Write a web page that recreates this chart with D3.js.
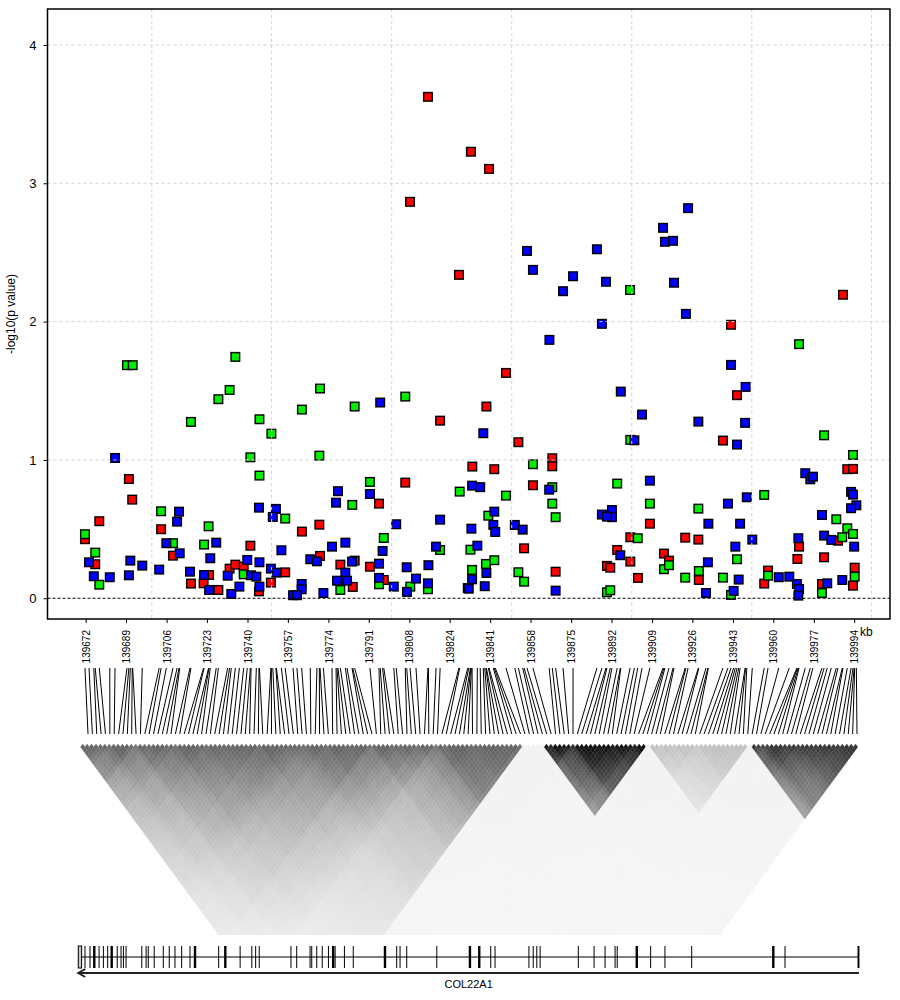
<!DOCTYPE html>
<html><head><meta charset="utf-8">
<script src="https://cdn.jsdelivr.net/npm/d3@7/dist/d3.min.js"></script>
<style>body{margin:0;background:#fff}</style>
</head><body>
<div id="chart"></div>
<script>
// ---------------- DATA ----------------
const xTickKb = [139672,139688.9,139705.9,139722.8,139739.8,139756.7,139773.7,139790.6,139807.6,139824.5,139841.5,139858.4,139875.4,139892.3,139909.3,139926.2,139943.2,139960.1,139977.1,139994];
const xTickLabels = ["139672","139689","139706","139723","139740","139757","139774","139791","139808","139824","139841","139858","139875","139892","139909","139926","139943","139960","139977","139994"];
const yTicks = [0,1,2,3,4];
const gridKb = [139699.7,139749.9,139800.2,139850.5,139900.8,139951.1,140001.3];

const redPts = [[139671.7,0.427],[139677.7,0.557],[139676.0,0.246],[139690.1,0.862],[139691.5,0.713],[139703.6,0.499],[139708.6,0.308],[139716.1,0.106],[139723.7,0.168],[139721.4,0.108],[139727.6,0.06],[139732.3,0.214],[139734.7,0.243],[139738.2,0.229],[139741.0,0.38],[139744.6,0.05],[139749.6,0.113],[139755.6,0.187],[139762.6,0.482],[139769.9,0.532],[139770.2,0.306],[139778.7,0.243],[139784.7,0.272],[139783.9,0.082],[139791.1,0.228],[139794.9,0.684],[139796.9,0.132],[139805.9,0.836],[139820.5,1.284],[139807.9,2.866],[139815.4,3.625],[139828.4,2.338],[139833.4,3.228],[139841.0,3.104],[139834.0,0.952],[139843.2,0.933],[139839.9,1.386],[139848.1,1.629],[139853.3,1.128],[139859.4,0.817],[139867.5,1.012],[139867.5,0.954],[139855.7,0.361],[139868.9,0.192],[139908.4,0.539],[139900.2,0.441],[139894.7,0.349],[139890.4,0.234],[139891.8,0.221],[139900.2,0.265],[139903.4,0.147],[139914.3,0.323],[139916.4,0.272],[139923.2,0.438],[139928.7,0.424],[139928.9,0.132],[139939.0,1.14],[139944.9,1.468],[139942.4,1.977],[139957.9,0.2],[139956.3,0.106],[139970.9,0.373],[139970.2,0.284],[139981.4,0.296],[139980.5,0.103],[139987.2,0.416],[139991.1,0.933],[139993.5,0.935],[139994.2,0.221],[139993.5,0.091],[139989.3,2.194]];

const greenPts = [[139689.3,1.685],[139691.7,1.685],[139734.7,1.745],[139732.3,1.506],[139727.6,1.439],[139716.1,1.275],[139744.8,1.294],[139741.0,1.019],[139744.8,0.887],[139703.6,0.629],[139671.7,0.463],[139723.5,0.52],[139708.6,0.398],[139721.6,0.388],[139676.0,0.33],[139677.7,0.098],[139738.2,0.173],[139749.8,1.19],[139770.2,1.516],[139762.6,1.364],[139784.7,1.386],[139805.9,1.458],[139769.9,1.031],[139791.1,0.841],[139783.7,0.675],[139828.7,0.771],[139755.6,0.576],[139796.9,0.436],[139820.5,0.349],[139833.2,0.351],[139778.7,0.06],[139794.9,0.101],[139808.0,0.084],[139815.4,0.065],[139833.9,0.205],[139859.4,0.969],[139867.5,0.803],[139848.1,0.742],[139867.5,0.684],[139868.9,0.586],[139894.7,0.829],[139908.4,0.684],[139900.2,1.145],[139840.7,0.597],[139839.7,0.248],[139843.2,0.275],[139853.3,0.188],[139855.7,0.12],[139903.3,0.434],[139890.4,0.043],[139891.8,0.058],[139914.3,0.21],[139916.4,0.239],[139923.2,0.149],[139900.1,2.229],[139970.9,1.837],[139981.4,1.178],[139993.5,1.036],[139956.3,0.747],[139928.7,0.648],[139986.5,0.571],[139991.1,0.506],[139993.5,0.465],[139989.0,0.441],[139944.9,0.282],[139928.9,0.197],[139939.0,0.149],[139957.9,0.163],[139994.2,0.156],[139980.5,0.038],[139942.4,0.024]];

const bluePts = [[139684.3,1.014],[139711.1,0.626],[139710.3,0.554],[139705.8,0.398],[139726.7,0.402],[139673.4,0.26],[139690.7,0.272],[139695.7,0.236],[139711.4,0.325],[139724.2,0.289],[139702.8,0.207],[139675.4,0.159],[139682.1,0.152],[139690.1,0.166],[139715.7,0.192],[139721.6,0.168],[139723.7,0.06],[139733.0,0.031],[139731.5,0.163],[139739.7,0.277],[139736.4,0.084],[139741.3,0.166],[139743.5,0.156],[139744.8,0.26],[139744.8,0.084],[139744.6,0.655],[139751.7,0.646],[139750.4,0.588],[139749.6,0.214],[139751.9,0.185],[139754.0,0.347],[139775.2,0.373],[139780.8,0.402],[139777.7,0.774],[139776.9,0.691],[139791.1,0.754],[139795.4,1.415],[139802.1,0.535],[139820.5,0.568],[139818.8,0.373],[139796.4,0.342],[139766.1,0.282],[139768.9,0.267],[139783.6,0.265],[139780.8,0.185],[139777.3,0.127],[139781.5,0.127],[139762.5,0.103],[139762.5,0.065],[139758.9,0.022],[139760.5,0.022],[139771.6,0.038],[139794.9,0.25],[139794.9,0.147],[139801.1,0.084],[139806.5,0.224],[139815.6,0.239],[139810.4,0.142],[139806.6,0.046],[139815.4,0.108],[139832.1,0.074],[139833.9,0.137],[139832.5,0.069],[139833.9,0.814],[139837.3,0.803],[139833.6,0.503],[139866.3,1.868],[139838.6,1.193],[139896.2,1.494],[139905.1,1.328],[139901.9,1.142],[139866.2,0.785],[139908.4,0.85],[139888.3,0.605],[139892.5,0.638],[139892.5,0.586],[139890.4,0.59],[139843.2,0.626],[139842.8,0.53],[139843.6,0.479],[139851.8,0.53],[139855.1,0.496],[139836.1,0.38],[139839.9,0.183],[139839.2,0.087],[139868.9,0.055],[139896.0,0.311],[139856.9,2.511],[139859.4,2.374],[139872.0,2.22],[139876.2,2.328],[139886.2,2.523],[139890.0,2.288],[139888.3,1.984],[139913.9,2.678],[139914.7,2.577],[139918.1,2.584],[139918.5,2.281],[139924.4,2.82],[139923.5,2.056],[139942.4,1.687],[139948.5,1.528],[139928.7,1.277],[139948.3,1.268],[139944.9,1.111],[139973.5,0.904],[139975.6,0.86],[139976.7,0.879],[139992.7,0.769],[139993.5,0.749],[139994.9,0.672],[139992.7,0.651],[139949.0,0.73],[139941.1,0.684],[139932.9,0.539],[139946.2,0.539],[139980.5,0.602],[139981.4,0.453],[139984.4,0.422],[139994.0,0.373],[139951.3,0.424],[139944.2,0.373],[139970.6,0.434],[139932.7,0.26],[139945.6,0.135],[139962.4,0.152],[139966.8,0.156],[139970.0,0.103],[139970.9,0.067],[139970.6,0.019],[139989.0,0.132],[139982.7,0.108],[139931.9,0.038],[139943.5,0.053]];

// LD blocks read from the triangle: [start kb, end kb, r2 level near diagonal, decay length kb]
const ldBlocks = [[139671,139996,0.05,400],[139671,139849,0.62,55],[139671,139849,0.12,220],[139856,139915,0.95,65],[139915,139955,0.25,40],[139955,139996,0.8,50]];

// gene COL22A1 exons [start kb, end kb]
const geneStart = 139668.9, geneEnd = 139996.0, geneName = "COL22A1";
const firstExon = [139668.9,139670.3];
const exons = [[139671.5,139671.9],[139673.6,139674.0],[139675.1,139676.1],[139677.4,139677.8],[139679.2,139679.6],[139681.0,139681.4],[139682.4,139683.4],[139685.0,139685.4],[139686.6,139687.0],[139687.6,139688.0],[139688.7,139689.1],[139695.3,139695.7],[139697.1,139697.5],[139698.0,139698.4],[139700.5,139700.9],[139704.3,139704.7],[139706.8,139707.2],[139709.2,139709.6],[139712.0,139712.4],[139715.5,139715.9],[139717.3,139718.3],[139727.5,139727.9],[139730.0,139731.0],[139736.5,139736.9],[139741.4,139741.8],[139743.0,139743.4],[139744.5,139744.9],[139757.8,139758.2],[139760.2,139760.6],[139765.8,139766.2],[139766.5,139766.9],[139768.6,139769.0],[139770.9,139771.3],[139773.5,139773.9],[139775.2,139776.2],[139776.3,139776.7],[139780.2,139780.6],[139783.9,139784.3],[139796.9,139797.9],[139802.1,139802.5],[139803.5,139803.9],[139806.3,139806.7],[139818.9,139819.3],[139832.5,139833.5],[139836.4,139837.4],[139841.5,139841.9],[139843.3,139843.7],[139857.5,139857.9],[139859.3,139859.7],[139860.8,139861.2],[139862.2,139862.6],[139878.2,139878.6],[139884.8,139885.2],[139889.4,139889.8],[139893.6,139894.0],[139894.5,139894.9],[139902.4,139903.4],[139908.5,139908.9],[139914.5,139914.9],[139925.7,139926.1],[139959.6,139960.6],[139964.8,139965.2],[139995.4,139996.2]];

// ---------------- DRAW ----------------
const W = 900, H = 1000;
const svg = d3.select("#chart").append("svg").attr("width", W).attr("height", H)
  .style("font-family", "Liberation Sans, Arial, sans-serif");

const plotL = 47.5, plotR = 890, plotT = 9, plotB = 619;
const x = d3.scaleLinear().domain([139656, 140009]).range([plotL, plotR]);
const y = d3.scaleLinear().domain([-0.15, 4.26]).range([plotB, plotT]);

const plot = svg.append("g");
plot.append("defs").append("clipPath").attr("id","pclip")
  .append("rect").attr("x",plotL).attr("y",plotT).attr("width",plotR-plotL).attr("height",plotB-plotT);

// points
const sq = 8.6;
const series = [[redPts,"#ff0000"],[greenPts,"#00ee00"],[bluePts,"#0000ff"]];
const ptsG = plot.append("g").attr("clip-path","url(#pclip)");
series.forEach(([pts,col]) => {
  ptsG.selectAll(null).data(pts).enter().append("rect")
    .attr("x", d => x(d[0]) - sq/2).attr("y", d => y(d[1]) - sq/2)
    .attr("width", sq).attr("height", sq)
    .attr("fill", col).attr("stroke", "#000").attr("stroke-width", 1.4);
});

// grid (drawn over the points as in the reference)
const grid = plot.append("g").attr("stroke", "#d3d3d3").attr("stroke-width", 1).attr("stroke-dasharray", "3,3");
grid.selectAll(null).data(yTicks.filter(v => v > 0)).enter().append("line")
  .attr("x1", plotL).attr("x2", plotR).attr("y1", d => y(d)).attr("y2", d => y(d));
grid.selectAll(null).data(gridKb.filter(k => x(k) < plotR)).enter().append("line")
  .attr("y1", plotT).attr("y2", plotB).attr("x1", d => x(d)).attr("x2", d => x(d));

// zero line
plot.append("line").attr("x1", plotL).attr("x2", plotR).attr("y1", y(0)).attr("y2", y(0))
  .attr("stroke", "#000").attr("stroke-width", 1).attr("stroke-dasharray", "3,2");

// frame
plot.append("rect").attr("x", plotL).attr("y", plotT).attr("width", plotR - plotL).attr("height", plotB - plotT)
  .attr("fill", "none").attr("stroke", "#000").attr("stroke-width", 1.5);

// y axis
const yAx = svg.append("g").attr("transform", `translate(${plotL},0)`)
  .call(d3.axisLeft(y).tickValues(yTicks).tickSize(4).tickPadding(7).tickFormat(d3.format("d")));
yAx.select(".domain").remove();
yAx.selectAll("text").style("font-size", "13px").style("font-family", "Liberation Sans, Arial, sans-serif");
yAx.selectAll("line").attr("stroke", "#000");

svg.append("text").attr("transform", `translate(15,${(y(4.26)+y(-0.15))/2}) rotate(-90)`)
  .attr("text-anchor", "middle").style("font-size", "12px").attr("fill", "#000").text("-log10(p value)");

// x axis
const xAx = svg.append("g").attr("transform", `translate(0,${plotB})`)
  .call(d3.axisBottom(x).tickValues(xTickKb).tickSize(4).tickFormat((d, i) => xTickLabels[i]));
xAx.select(".domain").remove();
xAx.selectAll("line").attr("stroke", "#000");
xAx.selectAll("text")
  .attr("transform", "rotate(-90)")
  .attr("x", -11).attr("y", 0).attr("dy", "0.36em")
  .attr("text-anchor", "end")
  .style("font-size", "10px").style("font-family", "Liberation Sans, Arial, sans-serif");
svg.append("text").attr("x", 860).attr("y", 636).style("font-size", "12px").text("kb");

// SNP set: union of positions of all series
const allKb = [...redPts, ...greenPts, ...bluePts].map(d => d[0]).sort((a, b) => a - b);
const snps = [];
allKb.forEach(k => { if (!snps.length || k - snps[snps.length - 1] > 0.15) snps.push(k); });
const N = snps.length;

// connecting lines
const lineTop = 668, lineBot = 734;
const idxX = d3.scaleLinear().domain([0, N - 1]).range([88, 857]);
svg.append("g").selectAll(null).data(snps).enter().append("line")
  .attr("x1", d => x(d)).attr("y1", lineTop)
  .attr("x2", (d, i) => idxX(i)).attr("y2", lineBot)
  .attr("stroke", "#000").attr("stroke-width", 1);

// LD triangle
const ldL = 78.3, ldR = 860, ldTop = 744, ldBottom = 935;
const cw = (ldR - ldL) / N, ch = cw * 1.36;
function ld(a, b) {
  const ka = snps[a], kb = snps[b];
  let v = 0;
  ldBlocks.forEach(([s, e, lev, len]) => {
    if (ka >= s && ka <= e && kb >= s && kb <= e) {
      const r = lev * Math.exp(-Math.abs(kb - ka) / len);
      if (r > v) v = r;
    }
  });
  return v;
}
const cells = [];
for (let i = 0; i < N; i++) for (let j = i + 1; j < N; j++) {
  const cy = ldTop + (j - i) * ch / 2;
  if (cy - ch / 2 > ldBottom) break;
  const v = ld(i, j);
  if (v > 0.01) cells.push({ i, j, v });
}
svg.append("defs").append("clipPath").attr("id", "ldclip")
  .append("rect").attr("x", 0).attr("y", ldTop).attr("width", W).attr("height", ldBottom - ldTop);
const gray = d3.scaleLinear().domain([0, 1]).range(["#ffffff", "#000000"]);
svg.append("g").attr("clip-path", "url(#ldclip)").selectAll(null).data(cells).enter().append("path")
  .attr("d", d => {
    const cx = ldL + (d.i + d.j + 1) * cw / 2, cy = ldTop + (d.j - d.i) * ch / 2;
    return `M${cx},${cy - ch / 2}L${cx + cw / 2},${cy}L${cx},${cy + ch / 2}L${cx - cw / 2},${cy}Z`;
  })
  .attr("fill", d => gray(d.v)).attr("stroke", d => gray(d.v)).attr("stroke-width", 0.3);

// gene track
const gY = 957, exTop = 946, exBot = 968, arY = 973;
const gene = svg.append("g");
gene.append("line").attr("x1", x(geneStart)).attr("x2", x(geneEnd)).attr("y1", gY).attr("y2", gY)
  .attr("stroke", "#555").attr("stroke-width", 1.5);
gene.append("rect").attr("x", x(firstExon[0])).attr("y", exTop).attr("width", x(firstExon[1]) - x(firstExon[0])).attr("height", exBot - exTop)
  .attr("fill", "#c8c8c8").attr("stroke", "#000").attr("stroke-width", 1);
gene.selectAll(null).data(exons).enter().append("rect")
  .attr("x", d => x(d[0])).attr("y", exTop)
  .attr("width", d => Math.max(1, x(d[1]) - x(d[0]))).attr("height", exBot - exTop).attr("fill", "#000");
gene.append("line").attr("x1", x(geneStart)).attr("x2", x(geneEnd)).attr("y1", arY).attr("y2", arY)
  .attr("stroke", "#222").attr("stroke-width", 2);
gene.append("path").attr("d", `M${x(geneStart) + 7},${arY - 4}L${x(geneStart)},${arY}L${x(geneStart) + 7},${arY + 4}`)
  .attr("fill", "none").attr("stroke", "#222").attr("stroke-width", 2);
gene.append("text").attr("x", x((geneStart + geneEnd) / 2)).attr("y", 988).attr("text-anchor", "middle")
  .style("font-size", "11px").text(geneName);
</script>
</body></html>
